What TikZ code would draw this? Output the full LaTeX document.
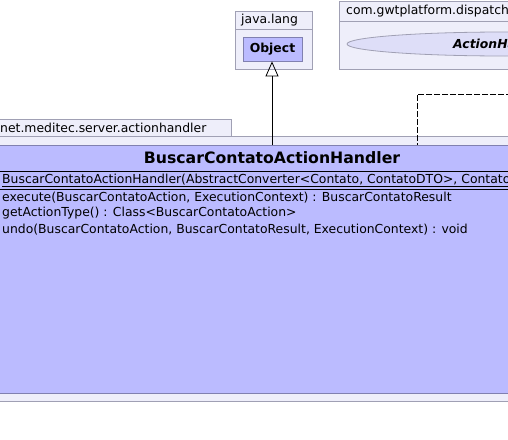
\documentclass[tikz,border=0pt]{standalone}
\usepackage{fontspec}
\setmainfont{DejaVu Sans}
\usetikzlibrary{arrows.meta,shapes.geometric}
\definecolor{pkgfill}{RGB}{238,238,250}
\definecolor{pkgline}{RGB}{160,160,180}
\definecolor{classfill}{RGB}{187,187,255}
\definecolor{classline}{RGB}{128,128,176}
\definecolor{ellfill}{RGB}{222,222,248}
\tikzset{
  pkg/.style={draw=pkgline, fill=pkgfill, line width=0.8pt, inner sep=0pt, anchor=north west},
  classbox/.style={draw=classline, fill=classfill, line width=0.8pt, inner sep=0pt, anchor=north west},
  txt/.style={inner sep=0pt, anchor=west, font=\fontsize{12.4}{14}\selectfont},
  ttl/.style={inner sep=0pt, font=\fontsize{15.7}{18}\selectfont\bfseries},
  sep/.style={draw=black, line width=0.8pt},
  inherit/.style={draw=black, line width=0.8pt, -{Triangle[open, length=15pt, width=13pt]}},
  dep/.style={draw=black, line width=0.8pt, dash pattern=on 6pt off 2pt}
}
\begin{document}
\begin{tikzpicture}[x=1pt, y=-1pt]
\useasboundingbox (0,0) rectangle (508,439);
% java.lang package
\node[pkg, minimum width=77pt, minimum height=58pt] (jl) at (235,11) {};
\draw[draw=pkgline, line width=0.8pt] (235,29) -- (312,29);
\node[txt] (jltxt) at (241,20) {java.lang};
\node[classbox, minimum width=59pt, minimum height=24pt, anchor=center, font=\fontsize{12.4}{14}\selectfont\bfseries] (obj) at (272.5,49) {Object};
% com.gwtplatform.dispatch package
\node[pkg, minimum width=200pt, minimum height=68pt] (gwt) at (339,1) {};
\draw[draw=pkgline, line width=0.8pt] (339,21) -- (540,21);
\node[txt] (gwttxt) at (346,11) {com.gwtplatform.dispatch};
\node[draw=pkgline, fill=ellfill, line width=0.8pt, ellipse, minimum width=316pt, minimum height=24pt, inner sep=0pt] (ah) at (505,44) {};
\node[inner sep=0pt, font=\fontsize{12.4}{14}\selectfont\bfseries\itshape, anchor=west] (ahtxt) at (453,44) {ActionHandler};
% net.meditec.server.actionhandler package
\node[pkg, minimum width=236pt, minimum height=17pt] (tab) at (-5,119) {};
\node[txt] (tabtxt) at (0,127.5) {net.meditec.server.actionhandler};
\node[pkg, minimum width=530pt, minimum height=265pt] (net) at (-5,136) {};
% class
\node[classbox, minimum width=530pt, minimum height=248pt] (handler) at (-5,145) {};
\node[ttl] (title) at (272,158) {BuscarContatoActionHandler};
\draw[sep] (-5,171) -- (520,171);
\draw[sep] (-5,189) -- (520,189);
\node[txt] (ctor) at (2,180.5) {\underline{BuscarContatoActionHandler(AbstractConverter<Contato, ContatoDTO>, Contato}};
\node[txt] (m1) at (2,197.5) {execute(BuscarContatoAction, ExecutionContext) : BuscarContatoResult};
\node[txt] (m2) at (2,213.5) {getActionType() : Class<BuscarContatoAction>};
\node[txt] (m3) at (2,229.5) {undo(BuscarContatoAction, BuscarContatoResult, ExecutionContext) : void};
% connectors
\coordinate (objb) at (obj.south -| 272,0);
\draw[inherit] (handler.north -| objb) -- (objb);
\coordinate (dend) at (520,94);
\coordinate (dcorner) at (417,94);
\draw[dep] (dend) -- (dcorner) -- (dcorner |- handler.north);
\end{tikzpicture}
\end{document}
